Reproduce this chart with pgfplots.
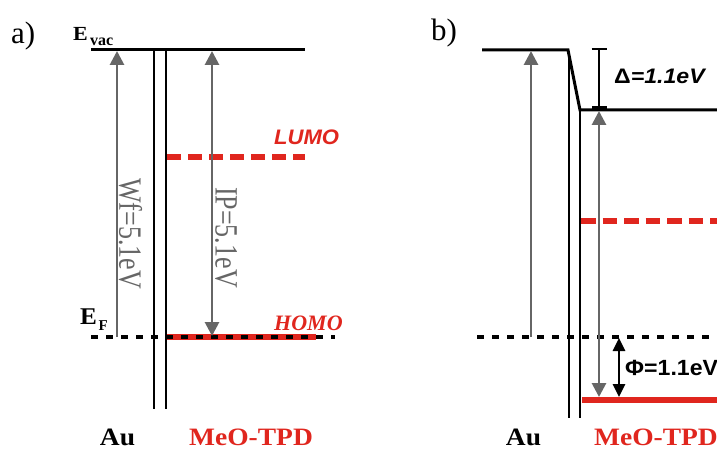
\documentclass[border=0pt]{standalone}
\usepackage{pgfplots}
\pgfplotsset{compat=1.18}
\usepackage{fontspec}
\setmainfont{Liberation Serif}
\newfontfamily\arial{Liberation Sans}
\usetikzlibrary{arrows.meta}
\definecolor{myred}{RGB}{224,38,30}
\definecolor{mygray}{RGB}{102,102,102}
\begin{document}
\begin{tikzpicture}
\begin{axis}[scale only axis, width=717pt, height=449pt,
  xmin=0, xmax=717, ymin=0, ymax=449, y dir=reverse, hide axis, clip=true]
% ---------- panel a ----------
\addplot[black, line width=3pt] coordinates {(91,50) (305,50)};
\addplot[black, line width=1.6pt] coordinates {(154,50) (154,409)};
\addplot[black, line width=1.6pt] coordinates {(166,50) (166,409)};
\addplot[myred, line width=6pt, dash pattern=on 14pt off 7pt] coordinates {(167,157) (305,157)};
\addplot[myred, line width=6pt] coordinates {(167,337) (316,337)};
\addplot[black, line width=3.5pt, dash pattern=on 7pt off 8pt] coordinates {(91,337) (335,337)};
\addplot[mygray, line width=2.8pt, -{Triangle[length=14pt,width=14pt]}] coordinates {(117,337) (117,51)};
\addplot[mygray, line width=2.8pt, {Triangle[length=14pt,width=14pt]}-{Triangle[length=14pt,width=14pt]}] coordinates {(212,51) (212,336)};
% ---------- panel b ----------
\addplot[black, line width=3pt] coordinates {(482,50) (568,50) (580,110) (717,110)};
\addplot[black, line width=1.6pt] coordinates {(569,52) (569,418)};
\addplot[black, line width=1.6pt] coordinates {(580,110) (580,418)};
\addplot[myred, line width=6pt, dash pattern=on 14.5pt off 7pt] coordinates {(581,221) (717,221)};
\addplot[myred, line width=6pt] coordinates {(582,400) (717,400)};
\addplot[black, line width=3.5pt, dash pattern=on 7pt off 8pt] coordinates {(477,337) (717,337)};
\addplot[mygray, line width=2.8pt, -{Triangle[length=14pt,width=14pt]}] coordinates {(531,337) (531,51)};
\addplot[mygray, line width=2.8pt, {Triangle[length=14pt,width=14pt]}-{Triangle[length=14pt,width=14pt]}] coordinates {(599,111) (599,397)};
\addplot[black, line width=2.5pt, {Bar[width=15pt]}-{Bar[width=15pt]}] coordinates {(599,48) (599,109)};
\addplot[black, line width=2.8pt, {Triangle[length=13pt,width=12pt]}-{Triangle[length=13pt,width=12pt]}] coordinates {(619,338) (619,397)};
% ---------- texts ----------
\node[anchor=base west, inner sep=0pt] at (axis cs:11,44) {\fontsize{31}{34}\selectfont a)};
\node[anchor=base west, inner sep=0pt] at (axis cs:431,41) {\fontsize{31}{34}\selectfont b)};
\node[anchor=base west, inner sep=0pt] at (axis cs:73,41) {\scalebox{1.1}[1]{\fontsize{20}{24}\selectfont\bfseries E}};
\node[anchor=base west, inner sep=0pt] at (axis cs:90,45.5) {\fontsize{16}{18}\selectfont\bfseries vac};
\node[anchor=base west, inner sep=0pt] at (axis cs:80,324) {\scalebox{1.05}[1]{\fontsize{24}{28}\selectfont\bfseries E}};
\node[anchor=base west, inner sep=0pt] at (axis cs:98.5,330.5) {\fontsize{15}{18}\selectfont\bfseries F};
\node[anchor=base west, inner sep=0pt, text=myred] at (axis cs:274,145) {\scalebox{1.05}[1]{\arial\fontsize{21}{24}\selectfont\bfseries\itshape LUMO}};
\node[anchor=base west, inner sep=0pt, text=myred] at (axis cs:274,330) {\fontsize{22}{26}\selectfont\bfseries\itshape HOMO};
\node[inner sep=0pt, rotate=-90, text=mygray] at (axis cs:130.5,233.5) {\scalebox{1}[1.25]{\fontsize{26}{30}\selectfont Wf=5.1eV}};
\node[inner sep=0pt, rotate=-90, text=mygray] at (axis cs:226,237.5) {\scalebox{1}[1.25]{\fontsize{26}{30}\selectfont IP=5.1eV}};
\node[anchor=base west, inner sep=0pt] at (axis cs:614,83.3) {\scalebox{1.1}[1]{\arial\fontsize{21}{24}\selectfont\bfseries Δ\itshape =1.1eV}};
\node[anchor=base west, inner sep=0pt] at (axis cs:625,375) {\scalebox{1.05}[1]{\arial\fontsize{22}{26}\selectfont\bfseries Φ=1.1eV}};
\node[anchor=base, inner sep=0pt] at (axis cs:117.5,445) {\scalebox{1.1}[1]{\fontsize{25}{30}\selectfont\bfseries Au}};
\node[anchor=base, inner sep=0pt, text=myred] at (axis cs:251,445) {\scalebox{1.1}[1]{\fontsize{25}{30}\selectfont\bfseries MeO-TPD}};
\node[anchor=base, inner sep=0pt] at (axis cs:523.5,445) {\scalebox{1.1}[1]{\fontsize{25}{30}\selectfont\bfseries Au}};
\node[anchor=base east, inner sep=0pt, text=myred] at (axis cs:718,445) {\scalebox{1.1}[1]{\fontsize{25}{30}\selectfont\bfseries MeO-TPD}};
\end{axis}
\pgfresetboundingbox
\path (current axis.south west) rectangle (current axis.north east);
\end{tikzpicture}
\end{document}
